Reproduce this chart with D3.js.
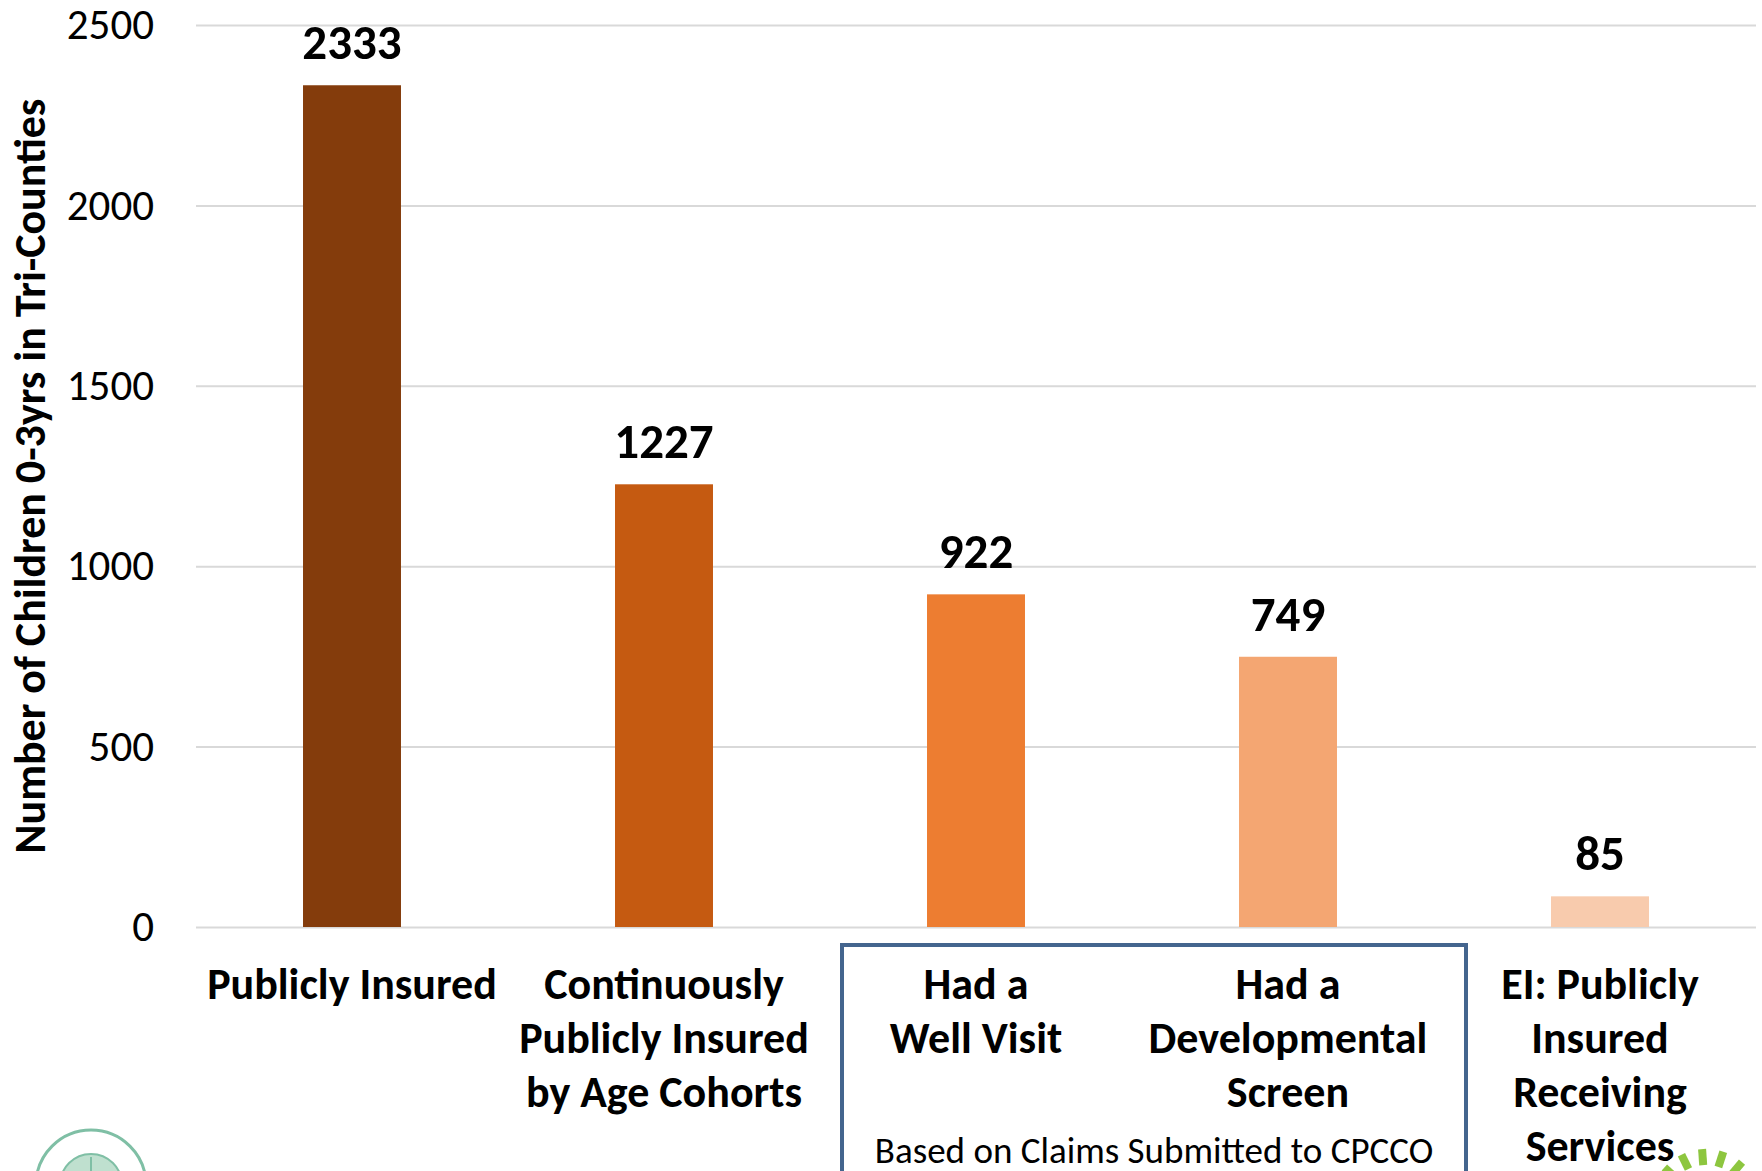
<!DOCTYPE html>
<html>
<head>
    <style>
        body {
            margin: 0;
            background-color: #ffffff;
        }
        svg {
            display: block;
        }
        .tick-label {
            font-family: Carlito, Lato, sans-serif;
            font-size: 43px;
            fill: #000;
        }
        .value-label {
            font-family: Carlito, Lato, sans-serif;
            font-size: 49px;
            font-weight: bold;
            fill: #000;
        }
        .cat-label {
            font-family: Carlito, Lato, sans-serif;
            font-size: 44px;
            font-weight: bold;
            fill: #000;
        }
    </style>
</head>
<body>
    <div id="chart"></div>

    <script src="https://d3js.org/d3.v7.min.js"></script>
    <script>
        var categories = ["Publicly Insured", "Continuously Publicly Insured by Age Cohorts", "Had a Well Visit", "Had a Developmental Screen", "EI: Publicly Insured Receiving Services"];
        var categoryLines = [
            ["Publicly Insured"],
            ["Continuously", "Publicly Insured", "by Age Cohorts"],
            ["Had a", "Well Visit"],
            ["Had a", "Developmental", "Screen"],
            ["EI: Publicly", "Insured", "Receiving", "Services"]
        ];
        var values = [2333, 1227, 922, 749, 85];
        var barColors = ["#843c0c", "#c55a11", "#ed7d31", "#f4a672", "#f8cbad"];
        var yTicks = [0, 500, 1000, 1500, 2000, 2500];
        var yTitle = "Number of Children 0-3yrs in Tri-Counties";
        var boxNote = "Based on Claims Submitted to CPCCO";

        var width = 1762, height = 1171;
        var svg = d3.select("#chart").append("svg")
            .attr("width", width)
            .attr("height", height);

        var x = d3.scaleBand()
            .domain(categories)
            .range([196, 1756])
            .paddingInner(0.686)
            .paddingOuter(0.343);

        var y = d3.scaleLinear()
            .domain([0, 2500])
            .range([927, 25]);

        // gridlines + tick labels
        var yAxis = d3.axisLeft(y)
            .tickValues(yTicks)
            .tickFormat(d3.format("d"))
            .tickSize(-(1756 - 196))
            .tickPadding(42);

        var gAxis = svg.append("g")
            .attr("transform", "translate(196,0)")
            .call(yAxis);
        gAxis.select(".domain").remove();
        gAxis.selectAll(".tick line")
            .attr("stroke", "#d9d9d9")
            .attr("stroke-width", 2);
        gAxis.selectAll(".tick text")
            .attr("class", "tick-label");
        gAxis.attr("font-size", null).attr("font-family", null);

        // y axis title
        svg.append("text")
            .attr("transform", "translate(30,476) rotate(-90)")
            .attr("text-anchor", "middle")
            .attr("dominant-baseline", "central")
            .style("font-family", "Carlito, Lato, sans-serif")
            .style("font-size", "44px")
            .style("font-weight", "bold")
            .text(yTitle);

        // bars
        svg.selectAll("rect.bar")
            .data(values)
            .enter()
            .append("rect")
            .attr("class", "bar")
            .attr("x", (d, i) => x(categories[i]))
            .attr("y", d => y(d))
            .attr("width", x.bandwidth())
            .attr("height", d => y(0) - y(d))
            .attr("fill", (d, i) => barColors[i]);

        // value labels
        svg.selectAll("text.value-label")
            .data(values)
            .enter()
            .append("text")
            .attr("class", "value-label")
            .attr("x", (d, i) => x(categories[i]) + x.bandwidth() / 2)
            .attr("y", d => y(d) - 26)
            .attr("text-anchor", "middle")
            .text(d => d);

        // box around the claims-based categories
        var boxLeft = x(categories[2]) + x.bandwidth() / 2 - 134;
        var boxRight = x(categories[3]) + x.bandwidth() / 2 + 178;
        svg.append("path")
            .attr("d", "M" + boxLeft + "," + (height + 10) + " L" + boxLeft + ",945 L" + boxRight + ",945 L" + boxRight + "," + (height + 10))
            .attr("fill", "none")
            .attr("stroke", "#44658e")
            .attr("stroke-width", 4);

        svg.append("text")
            .attr("x", (boxLeft + boxRight) / 2)
            .attr("y", 1163)
            .attr("text-anchor", "middle")
            .style("font-family", "Carlito, Lato, sans-serif")
            .style("font-size", "37px")
            .text(boxNote);

        // category labels
        var catG = svg.selectAll("g.cat")
            .data(categoryLines)
            .enter()
            .append("g")
            .attr("class", "cat");

        catG.selectAll("text")
            .data((d, i) => d.map(t => ({ t: t, i: i })))
            .enter()
            .append("text")
            .attr("class", "cat-label")
            .attr("text-anchor", "middle")
            .attr("x", d => x(categories[d.i]) + x.bandwidth() / 2)
            .attr("y", (d, j) => 999 + j * 54)
            .text(d => d.t);

        // left logo (partly cropped)
        var logo1 = svg.append("g").attr("transform", "translate(91,1185)");
        logo1.append("circle")
            .attr("r", 55)
            .attr("fill", "#ffffff")
            .attr("stroke", "#7fbfa5")
            .attr("stroke-width", 3);
        logo1.append("circle")
            .attr("r", 31)
            .attr("fill", "#bfe0cf")
            .attr("stroke", "#7fbfa5")
            .attr("stroke-width", 2);
        logo1.append("rect")
            .attr("x", -62).attr("y", -8)
            .attr("width", 124).attr("height", 20)
            .attr("fill", "#ffffff")
            .attr("stroke", "#7fbfa5")
            .attr("stroke-width", 3);
        logo1.append("line")
            .attr("x1", 0).attr("y1", -8).attr("x2", 0).attr("y2", -28)
            .attr("stroke", "#7fbfa5").attr("stroke-width", 2);

        // right logo (partly cropped)
        var logo2 = svg.append("g").attr("transform", "translate(1706,1205)");
        logo2.append("circle").attr("r", 58).attr("fill", "#ffffff");
        d3.range(-160, -10, 22).forEach(function (a) {
            var r = a * Math.PI / 180;
            logo2.append("line")
                .attr("x1", 40 * Math.cos(r)).attr("y1", 40 * Math.sin(r))
                .attr("x2", 56 * Math.cos(r)).attr("y2", 56 * Math.sin(r))
                .attr("stroke", "#8dc63f")
                .attr("stroke-width", 8);
        });
    </script>
</body>
</html>
